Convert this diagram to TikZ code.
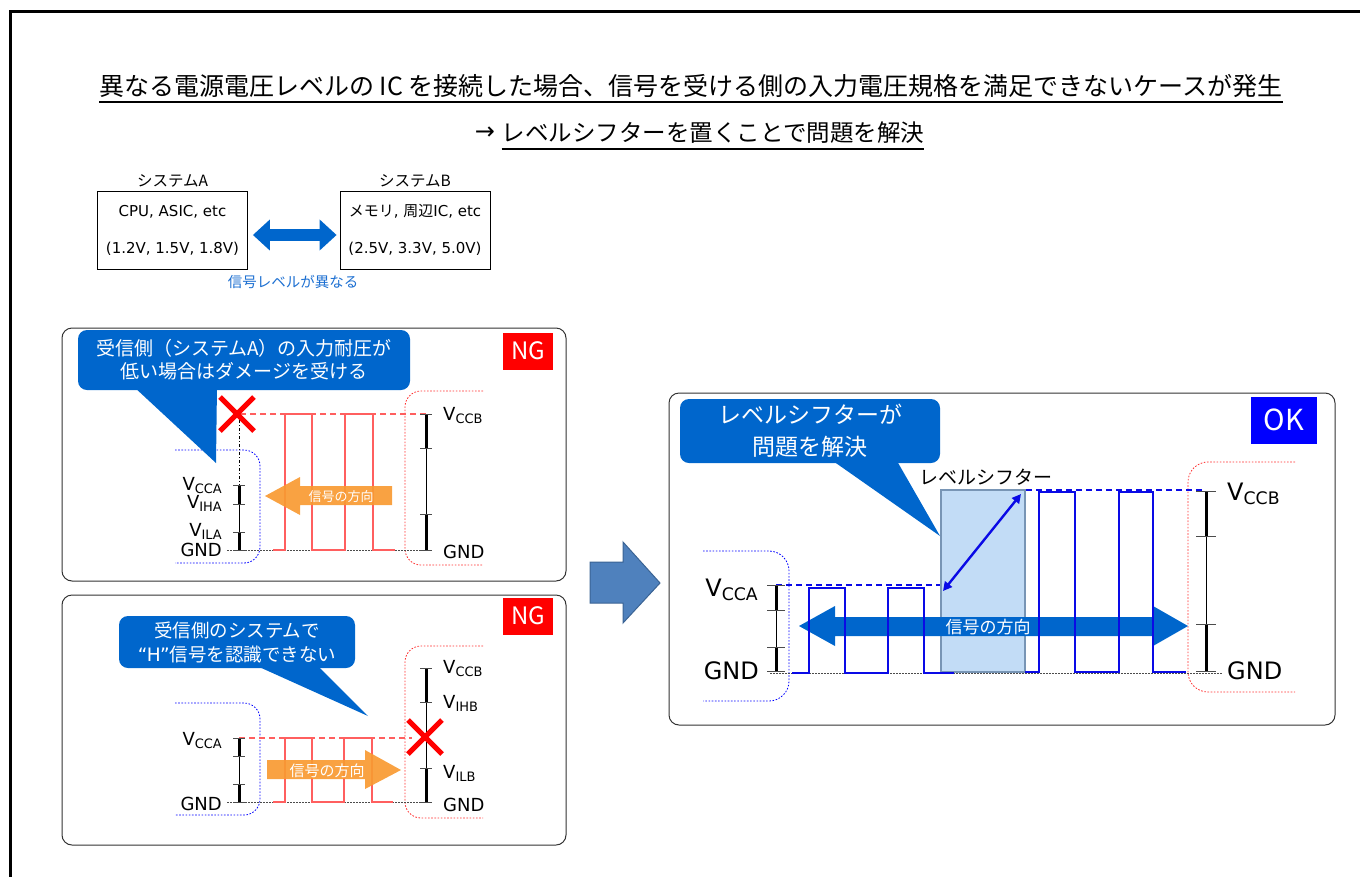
\documentclass[tikz,border=0pt]{standalone}
\usepackage{fontspec}
\setmainfont{DejaVu Sans}
\newfontfamily\jp{Noto Sans CJK JP}
\usepackage{graphicx}
\usetikzlibrary{arrows.meta,positioning}
\definecolor{bubbleblue}{HTML}{0066CC}
\definecolor{noteblue}{HTML}{1C6FD1}
\definecolor{ngred}{HTML}{FF0000}
\definecolor{okblue}{HTML}{0000FF}
\definecolor{wavered}{HTML}{FF5F5F}
\definecolor{dotred}{HTML}{FF3030}
\definecolor{waveblue}{HTML}{0A0AE6}
\definecolor{dirorange}{HTML}{F89A32}
\definecolor{bigarrow}{HTML}{4F81BD}
\definecolor{bigarrowline}{HTML}{3A6394}
\definecolor{shifterfill}{HTML}{C2DCF6}
\definecolor{shifterline}{HTML}{7895B5}
\newcommand{\fs}[2]{\fontsize{#1}{#2}\selectfont}
\newcommand{\vlab}[1]{V\raisebox{-0.2em}{\scalebox{0.72}{#1}}}
\newcommand{\vbar}[6]{\draw[line width=3pt] (#1,#2) -- (#1,#3); \draw[line width=1pt] (#1,#3) -- (#1,#4); \draw[line width=3pt] (#1,#4) -- (#1,#5); \foreach \ty in {#2,#3,#4,#5} \draw[black!70, line width=1pt] (#1-#6,\ty) -- (#1+#6,\ty);}
\newcommand{\redx}[2]{\draw[ngred, line width=5pt] (#1-17,#2-17) -- (#1+17,#2+17) (#1+17,#2-17) -- (#1-17,#2+17);}
\tikzset{
  panel/.style={draw=black!80, line width=1pt, rounded corners=10pt},
  sysbox/.style={draw, line width=0.8pt, minimum width=150pt, minimum height=78pt, align=center, inner sep=0pt, font={\fs{15}{37}}},
  bubble/.style={fill=bubbleblue, text=white, rounded corners=9pt, align=center, inner sep=0pt},
  tagbox/.style={text=white, inner sep=0pt},
  dotA/.style={draw=blue, line width=0.8pt, dash pattern=on 1.6pt off 1.6pt, rounded corners=16pt},
  dotB/.style={draw=dotred, line width=0.8pt, dash pattern=on 1.6pt off 1.6pt, rounded corners=16pt},
  gnd/.style={draw=black!70, line width=0.9pt, dash pattern=on 1.5pt off 1.5pt},
  redwave/.style={draw=wavered, line width=2pt},
  reddash/.style={draw=wavered, line width=1.2pt, dash pattern=on 6pt off 4pt},
  bluewave/.style={draw=waveblue, line width=2.6pt},
  bluedash/.style={draw=waveblue, line width=1.6pt, dash pattern=on 6pt off 4pt},
  vlabel/.style={inner sep=0pt, font={\fs{18}{20}}},
  vlabelbig/.style={inner sep=0pt, font={\fs{24}{26}}},
  dirtext/.style={text=white, inner sep=0pt},
  linkarrow/.style={bubbleblue, line width=12pt, {Triangle[width=30pt,length=17pt]}-{Triangle[width=30pt,length=17pt]}}
}
\begin{document}
\begin{tikzpicture}[x=1pt,y=-1pt]
    \useasboundingbox (0,0) rectangle (1360,876);
    \draw[line width=3pt] (10,890) -- (10,11) -- (1370,11);

    % heading
    \node[inner sep=0pt, font={\jp\fs{25}{25}}] (title) at (691,86) {異なる電源電圧レベルの IC を接続した場合、信号を受ける側の入力電圧規格を満足できないケースが発生};
    \draw[line width=1.6pt] (title.west |- 0,102) -- (title.east |- 0,102);
    \node[inner sep=0pt, font={\fs{24}{24}}] (arr) at (485,133) {→};
    \node[inner sep=0pt, font={\jp\fs{23.5}{23.5}}] (title2) at (713,133) {レベルシフターを置くことで問題を解決};
    \draw[line width=1.6pt] (title2.west |- 0,149) -- (title2.east |- 0,149);

    % systems
    \node[sysbox] (sysA) at (172.5,230) {CPU, ASIC, etc\\(1.2V, 1.5V, 1.8V)};
    \node[sysbox] (sysB) at (415,230) {{\jp メモリ}, {\jp 周辺}IC, etc\\(2.5V, 3.3V, 5.0V)};
    \node[inner sep=0pt, font={\jp\fs{15.5}{15.5}}, above=3pt of sysA] (capA) {システムA};
    \node[inner sep=0pt, font={\jp\fs{15.5}{15.5}}, above=3pt of sysB] (capB) {システムB};
    \draw[linkarrow] ([xshift=5pt,yshift=-5pt]sysA.east) -- ([xshift=-3pt,yshift=-5pt]sysB.west);
    \node[text=noteblue, inner sep=0pt, font={\jp\fs{14.5}{14.5}}] (diffnote) at (293,282) {信号レベルが異なる};

    % panel 1
    \draw[panel] (62,328) rectangle (566,581);
    \node[tagbox, fill=ngred, minimum width=50pt, minimum height=37pt, font={\jp\fs{24}{24}}] (ngA) at (528,351) {NG};
    \draw[dotA] (175,450) -- (260,450) -- (260,563) -- (175,563);
    \draw[dotB] (483,391) -- (405,391) -- (405,565) -- (483,565);
    \draw[gnd] (227,550) -- (427,550);
    \draw[redwave] (273,550) -- (285,550) -- (285,414) -- (312,414) -- (312,550) -- (345,550) -- (345,414) -- (373,414) -- (373,550) -- (395,550);
    \draw[reddash] (240,414) -- (427,414);
    \draw[line width=0.7pt, dash pattern=on 3pt off 2pt on 1pt off 2pt] (239,420) -- (239,485);
    \vbar{239}{485}{504}{532}{550}{6}
    \vbar{426}{414}{448}{514}{550}{6}
    \node[vlabel, anchor=base east] (ccaA) at (222,490) {\vlab{CCA}};
    \node[vlabel, anchor=base east] (ihaA) at (222,508) {\vlab{IHA}};
    \node[vlabel, anchor=base east] (ilaA) at (222,536) {\vlab{ILA}};
    \node[vlabel, anchor=base east] (gndA) at (222,556) {GND};
    \node[vlabel, anchor=base west] (ccbA) at (443,420) {\vlab{CCB}};
    \node[vlabel, anchor=base west] (gndB) at (443,558) {GND};
    \fill[dirorange, opacity=0.92] (392,486) -- (300,486) -- (300,477) -- (265,496) -- (300,515) -- (300,505) -- (392,505) -- cycle;
    \node[dirtext, font={\jp\fs{13}{13}}] (dirA) at (341,497) {信号の方向};
    \fill[bubbleblue] (133,386) -- (217,386) -- (216,463) -- cycle;
    \node[bubble, minimum width=332pt, minimum height=60pt, font={\jp\fs{19}{23}}] (bubA) at (244,360) {受信側（システムA）の入力耐圧が\\低い場合はダメージを受ける};
    \redx{237}{414}

    % panel 2
    \draw[panel] (62,595) rectangle (566,845);
    \node[tagbox, fill=ngred, minimum width=50pt, minimum height=37pt, font={\jp\fs{24}{24}}] (ngB) at (528,616) {NG};
    \draw[dotA] (175,703) -- (260,703) -- (260,815) -- (175,815);
    \draw[dotB] (483,646) -- (405,646) -- (405,818) -- (483,818);
    \draw[gnd] (227,802) -- (427,802);
    \draw[redwave] (273,802) -- (285,802) -- (285,738) -- (312,738) -- (312,802) -- (344,802) -- (344,738) -- (372,738) -- (372,802) -- (393,802);
    \draw[reddash] (239,738) -- (412,738);
    \vbar{239}{738}{756}{784}{802}{6}
    \vbar{426}{668}{702}{768}{802}{6}
    \node[vlabel, anchor=base east] (ccaB) at (222,745) {\vlab{CCA}};
    \node[vlabel, anchor=base east] (gndC) at (222,810) {GND};
    \node[vlabel, anchor=base west] (ccbB) at (443,673) {\vlab{CCB}};
    \node[vlabel, anchor=base west] (ihbB) at (443,708) {\vlab{IHB}};
    \node[vlabel, anchor=base west] (ilbB) at (443,778) {\vlab{ILB}};
    \node[vlabel, anchor=base west] (gndD) at (443,811) {GND};
    \fill[dirorange, opacity=0.92] (267,760) -- (365,760) -- (365,750) -- (401,770) -- (365,789) -- (365,779) -- (267,779) -- cycle;
    \node[dirtext, font={\jp\fs{15}{15}}] (dirB) at (327,771) {信号の方向};
    \fill[bubbleblue] (257,666) -- (318,666) -- (368,716) -- cycle;
    \node[bubble, minimum width=236pt, minimum height=52pt, font={\jp\fs{18.5}{24}}] (bubB) at (237,642) {受信側のシステムで\\{\normalfont “H”}信号を認識できない};
    \redx{425}{737}

    % big arrow
    \filldraw[fill=bigarrow, draw=bigarrowline, line width=1pt] (590,562) -- (623,562) -- (623,542) -- (660,583) -- (623,623) -- (623,603) -- (590,603) -- cycle;

    % panel 3
    \draw[panel] (669,393) rectangle (1335,725);
    \node[tagbox, fill=okblue, minimum width=66pt, minimum height=47pt, font={\jp\fs{29}{29}}] (okC) at (1284,420) {OK};
    \draw[dotA, rounded corners=20pt] (703,551) -- (789,551) -- (789,701) -- (703,701);
    \draw[dotB, rounded corners=20pt] (1295,462) -- (1188,462) -- (1188,692) -- (1295,692);
    \draw[gnd] (770,673) -- (1222,673);
    \draw[fill=shifterfill, draw=shifterline, line width=1.2pt] (941,490) rectangle (1025,672);
    \node[inner sep=0pt, font={\jp\fs{19}{19}}] (shifter) at (986,477) {レベルシフター};
    \draw[bluedash] (776,585) -- (940,585);
    \draw[bluedash] (1026,490) -- (1203,490);
    \vbar{776}{585}{610}{647}{671}{9}
    \vbar{1206}{491}{536}{624}{671}{10}
    \node[vlabelbig, anchor=base east] (ccaC) at (758,596) {\vlab{CCA}};
    \node[vlabelbig, anchor=base east] (gndE) at (759,679) {GND};
    \node[vlabelbig, anchor=base west] (ccbC) at (1227,500) {\vlab{CCB}};
    \node[vlabelbig, anchor=base west] (gndF) at (1227,679) {GND};
    \fill[bubbleblue] (799,626) -- (835,606) -- (835,617) -- (1153,617) -- (1153,606) -- (1188,626) -- (1153,646) -- (1153,636) -- (835,636) -- (835,646) -- cycle;
    \node[dirtext, font={\jp\fs{17}{17}}] (dirC) at (988,627) {信号の方向};
    \draw[bluewave] (792,673) -- (809,673) -- (809,588) -- (845,588) -- (845,673) -- (888,673) -- (888,588) -- (924,588) -- (924,673) -- (954,673);
    \draw[bluewave] (1025,672) -- (1039,672) -- (1039,492) -- (1075,492) -- (1075,672) -- (1119,672) -- (1119,492) -- (1153,492) -- (1153,672) -- (1186,672);
    \draw[waveblue, line width=2.4pt, {Triangle[width=9pt,length=9pt]}-{Triangle[width=9pt,length=9pt]}] (943,591) -- (1021,494);
    \fill[bubbleblue] (833,461) -- (897,461) -- (940,536) -- cycle;
    \node[bubble, minimum width=260pt, minimum height=64pt, font={\jp\fs{23}{32}}] (bubC) at (810,431) {レベルシフターが\\問題を解決};
\end{tikzpicture}
\end{document}
